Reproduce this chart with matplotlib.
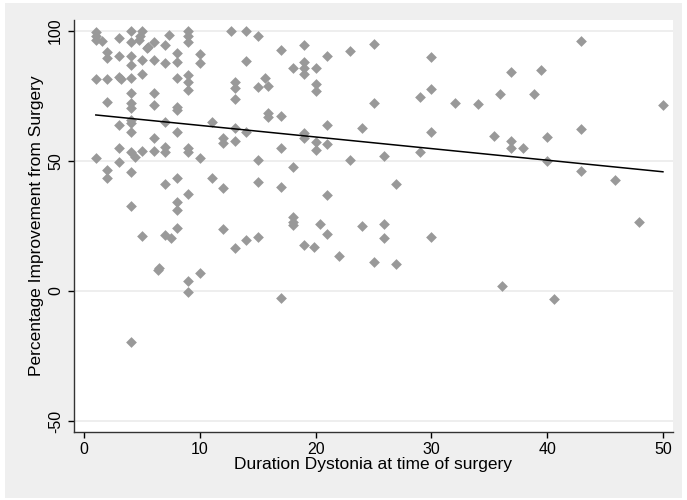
import numpy as np
import matplotlib.pyplot as plt
from matplotlib.patches import Rectangle

plt.rcParams['font.family'] = ['Liberation Sans', 'DejaVu Sans']

# duration of dystonia (years) and improvement (%)
duration = [1, 1, 1, 1.5, 1, 1,
            2, 2, 2, 2, 2, 2,
            3, 3, 3, 3.2, 3, 3, 3,
            4, 4, 4, 4, 4, 4, 4, 4, 4, 4, 4, 4, 4.4, 4, 4, 4,
            5, 4.8, 4.7, 5, 5, 5, 5, 5.5, 5.4,
            6, 6, 6, 6, 6, 6, 6.4, 6.5,
            7.3, 7, 7, 7, 7, 7, 7, 7, 7.5,
            8, 8, 8, 8, 8, 8, 8, 8, 8, 8,
            9, 9, 9, 9, 9, 9, 9, 9, 9, 9, 9,
            10, 10, 10, 10, 11, 11, 12, 12, 12, 12, 12.7,
            13, 13, 13, 13, 13, 13, 14, 14, 14, 14,
            15, 15, 15, 15, 15, 15.6, 15.9, 15.9, 15.9,
            17, 17, 17, 17, 17, 18, 18, 18, 18, 18,
            19, 19, 19, 19, 19, 19, 19, 19.85,
            20, 20, 20, 20, 20, 20.4, 21, 21, 21, 21, 21, 22,
            23, 23, 24, 24, 25, 25, 25, 25.9, 25.9, 25.9, 26.9, 26.9,
            29, 29, 30, 30, 30, 30, 32, 34, 35.4, 35.9, 36.1,
            36.9, 36.9, 36.9, 37.9, 38.9, 39.5, 40, 40, 40.6,
            42.9, 42.9, 42.9, 45.9, 47.9, 50]
improvement = [99.5, 98, 96.5, 96, 81.5, 51,
               92, 89.5, 81.5, 72.6, 46.5, 43.3,
               97.2, 90.5, 82.4, 81.5, 63.8, 54.9, 49.5,
               100, 95.9, 90.5, 86.9, 81.8, 76, 72.2, 70.3, 65.8, 64.5, 61, 53.6, 51.5, 45.9, 32.8, -19.5,
               100, 98.2, 96.5, 88.8, 83.3, 53.8, 21.2, 94, 93.3,
               95.9, 88.8, 76, 71.5, 58.7, 53.8, 8.1, 8.7,
               98.5, 94.6, 87.6, 65.1, 55.5, 53.6, 41, 21.5, 20.3,
               91.4, 88.2, 81.8, 70.9, 69.6, 61.3, 43.3, 34.3, 31.2, 24.1,
               100, 98.2, 95.9, 83, 80.5, 77.3, 54.9, 53.3, 37.2, 3.8, -0.3,
               91, 87.6, 51, 7, 64.9, 43.3, 58.7, 56.8, 39.5, 23.8, 100,
               80.5, 78, 73.7, 62.8, 57.7, 16.4, 100, 88.5, 61, 19.5,
               98.2, 78.3, 50.3, 41.8, 20.9, 81.8, 79, 68.3, 67,
               92.7, 67.3, 54.9, 40.1, -2.8, 85.6, 47.6, 28.6, 26.7, 25.4,
               94.5, 88, 85.6, 83.3, 60.6, 59, 17.7, 16.8,
               85.6, 79.5, 76.9, 57.4, 54.2, 25.6, 90.3, 63.8, 56.4, 36.9, 21.8, 13.5,
               92.2, 50.3, 62.8, 25, 95, 72.4, 11.3, 51.8, 25.9, 20.2, 41, 10.4,
               74.5, 53.6, 90, 77.7, 61.3, 20.8, 72.1, 72, 59.6, 75.6, 2,
               84.1, 57.7, 55.1, 55, 75.9, 85, 59.2, 49.9, -3,
               96.3, 62.4, 46.2, 42.8, 26.5, 71.5]

x = np.array(duration)
y = np.array(improvement)

# linear fit, drawn over the range of the data
slope, intercept = np.polyfit(x, y, 1)
xfit = np.array([x.min(), x.max()])
yfit = intercept + slope * xfit

fig = plt.figure(figsize=(6.87, 5.0), dpi=100, facecolor='white')
# grey graph region with a thin white margin, Stata style
fig.patches.append(Rectangle((5 / 687, 2 / 500), 677 / 687, 495 / 500,
                             transform=fig.transFigure, facecolor='#EFEFEF',
                             edgecolor='none', zorder=-5))

ax = fig.add_axes([73.5 / 687, 68 / 500, 599.5 / 687, 412 / 500])
ax.set_facecolor('white')

ax.scatter(x, y, marker='D', s=30, color='#999999', linewidths=0, zorder=3)
ax.plot(xfit, yfit, color='black', linewidth=1.1, zorder=4)

ax.set_xlim(-0.93, 50.87)
ax.set_ylim(-54.2, 104.2)
ax.set_xticks([0, 10, 20, 30, 40, 50])
ax.set_yticks([-50, 0, 50, 100])
ax.set_yticklabels(['-50', '0', '50', '100'], rotation=90, va='center')
ax.grid(axis='y', color='#EAEAEA', linewidth=1.1)
ax.set_axisbelow(True)

for side in ['top', 'right']:
    ax.spines[side].set_visible(False)
for side in ['left', 'bottom']:
    ax.spines[side].set_color('#333333')
    ax.spines[side].set_linewidth(1.0)

ax.tick_params(direction='out', length=4.5, width=1, colors='black', labelsize=11.5, pad=3)
ax.set_xlabel('Duration Dystonia at time of surgery', fontsize=12.5, labelpad=0)
ax.set_ylabel('Percentage Improvement from Surgery', fontsize=12.5, labelpad=3)

fig.savefig('out.png', dpi=100, facecolor=fig.get_facecolor())
